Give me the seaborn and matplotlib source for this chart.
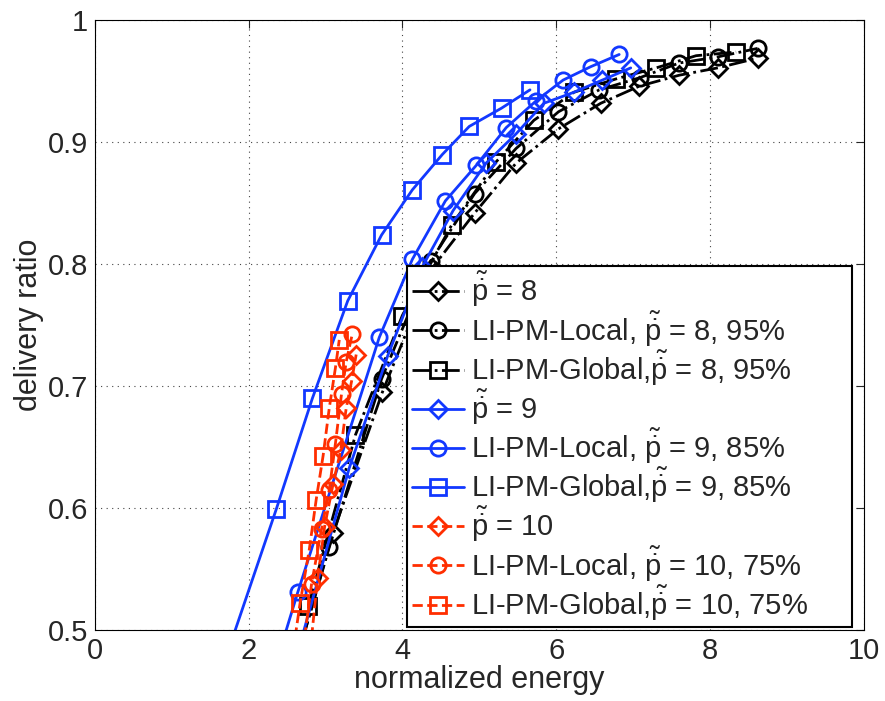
import matplotlib
matplotlib.use("Agg")
import matplotlib.pyplot as plt
import seaborn as sns
import numpy as np

sns.set_style("white")
plt.rcParams['font.family'] = ['Liberation Sans', 'DejaVu Sans']
plt.rcParams['mathtext.fontset'] = 'custom'
plt.rcParams['mathtext.rm'] = 'Liberation Sans'
plt.rcParams['mathtext.it'] = 'Liberation Sans:italic'
plt.rcParams['mathtext.bf'] = 'Liberation Sans:bold'

P = r"$\tilde{\dot{\mathrm{p}}}$"

# p~ = 8 (black)
x_b_base = [2.60, 3.10, 3.74, 4.39, 4.94, 5.48, 6.03, 6.58, 7.08, 7.60, 8.10, 8.62]
y_b_base = [0.47, 0.58, 0.695, 0.797, 0.842, 0.883, 0.911, 0.932, 0.946, 0.955, 0.961, 0.969]
x_b_local = [2.60, 3.05, 3.73, 4.37, 4.94, 5.48, 6.03, 6.56, 7.09, 7.60, 8.10, 8.62]
y_b_local = [0.47, 0.568, 0.706, 0.803, 0.858, 0.895, 0.925, 0.943, 0.953, 0.965, 0.970, 0.977]
x_b_global = [2.78, 3.39, 4.00, 4.64, 5.22, 5.71, 6.23, 6.78, 7.30, 7.82, 8.34]
y_b_global = [0.52, 0.660, 0.758, 0.832, 0.884, 0.918, 0.941, 0.952, 0.961, 0.971, 0.974]

# p~ = 9 (blue)
x_u_base = [2.50, 3.31, 3.81, 4.26, 4.66, 5.09, 5.48, 5.84, 6.23, 6.60, 6.97]
y_u_base = [0.45, 0.633, 0.725, 0.798, 0.844, 0.883, 0.907, 0.932, 0.941, 0.951, 0.961]
x_u_local = [2.20, 2.64, 3.70, 4.13, 4.56, 4.96, 5.35, 5.74, 6.09, 6.45, 6.82]
y_u_local = [0.44, 0.531, 0.740, 0.804, 0.852, 0.881, 0.912, 0.934, 0.951, 0.962, 0.972]
x_u_global = [1.45, 2.36, 2.83, 3.29, 3.73, 4.13, 4.52, 4.87, 5.29, 5.66]
y_u_global = [0.43, 0.599, 0.690, 0.770, 0.824, 0.861, 0.890, 0.913, 0.928, 0.943]

# p~ = 10 (red)
x_r_base = [2.78, 2.90, 2.99, 3.10, 3.20, 3.27, 3.34, 3.40]
y_r_base = [0.47, 0.543, 0.585, 0.620, 0.648, 0.682, 0.704, 0.726]
x_r_local = [2.68, 2.82, 2.95, 3.05, 3.13, 3.21, 3.27, 3.35]
y_r_local = [0.47, 0.538, 0.583, 0.615, 0.653, 0.694, 0.720, 0.743]
x_r_global = [2.55, 2.67, 2.79, 2.88, 2.97, 3.05, 3.13, 3.18]
y_r_global = [0.47, 0.522, 0.566, 0.607, 0.643, 0.682, 0.715, 0.738]

labels = [
    f"{P} = 8", f"LI-PM-Local, {P} = 8, 95%", f"LI-PM-Global,{P} = 8, 95%",
    f"{P} = 9", f"LI-PM-Local, {P} = 9, 85%", f"LI-PM-Global,{P} = 9, 85%",
    f"{P} = 10", f"LI-PM-Local, {P} = 10, 75%", f"LI-PM-Global,{P} = 10, 75%",
]

BLACK = "#000000"
BLUE = "#1238ff"
RED = "#ff2e00"

series = [
    (x_b_base, y_b_base, BLACK, "-.", "D"),
    (x_b_local, y_b_local, BLACK, "-.", "o"),
    (x_b_global, y_b_global, BLACK, "-.", "s"),
    (x_u_base, y_u_base, BLUE, "-", "D"),
    (x_u_local, y_u_local, BLUE, "-", "o"),
    (x_u_global, y_u_global, BLUE, "-", "s"),
    (x_r_base, y_r_base, RED, "--", "D"),
    (x_r_local, y_r_local, RED, "--", "o"),
    (x_r_global, y_r_global, RED, "--", "s"),
]

fig = plt.figure(figsize=(8.85, 7.01), dpi=100)
ax = fig.add_axes([0.107, 0.101, 0.869, 0.870])

for (xs, ys, c, ls, m), lab in zip(series, labels):
    ms = 9 if m == "D" else 11
    sns.lineplot(x=xs, y=ys, ax=ax, color=c, linestyle=ls, linewidth=2.0,
                 marker=m, markersize=ms, markerfacecolor="none",
                 markeredgecolor=c, markeredgewidth=2.0,
                 sort=False, estimator=None, label=lab)

ax.set_xlim(0, 10)
ax.set_ylim(0.5, 1.0)
ax.set_xticks([0, 2, 4, 6, 8, 10])
ax.set_yticks([0.5, 0.6, 0.7, 0.8, 0.9, 1.0])
ax.set_yticklabels(["0.5", "0.6", "0.7", "0.8", "0.9", "1"])
ax.grid(True, linestyle=(0, (1, 4)), color="#444444", linewidth=0.8)
ax.tick_params(direction="in", length=6, width=0.8, top=True, right=True,
               pad=5, labelsize=21)
for s in ax.spines.values():
    s.set_color("black")
    s.set_linewidth(0.8)
ax.set_xlabel("normalized energy", fontsize=22, labelpad=0)
ax.set_ylabel("delivery ratio", fontsize=22)
ax.yaxis.set_label_coords(-0.066, 0.5)

leg = ax.legend(loc="lower left", bbox_to_anchor=(0.4065, 0.005, 0.578, 0.5),
                mode="expand", fontsize=21,
                frameon=True, fancybox=False, edgecolor="black", framealpha=1,
                handlelength=1.8, labelspacing=0.0, borderpad=0.15,
                handletextpad=0.25, borderaxespad=0)
leg.get_frame().set_linewidth(1.5)

fig.savefig("out.png", dpi=100)
